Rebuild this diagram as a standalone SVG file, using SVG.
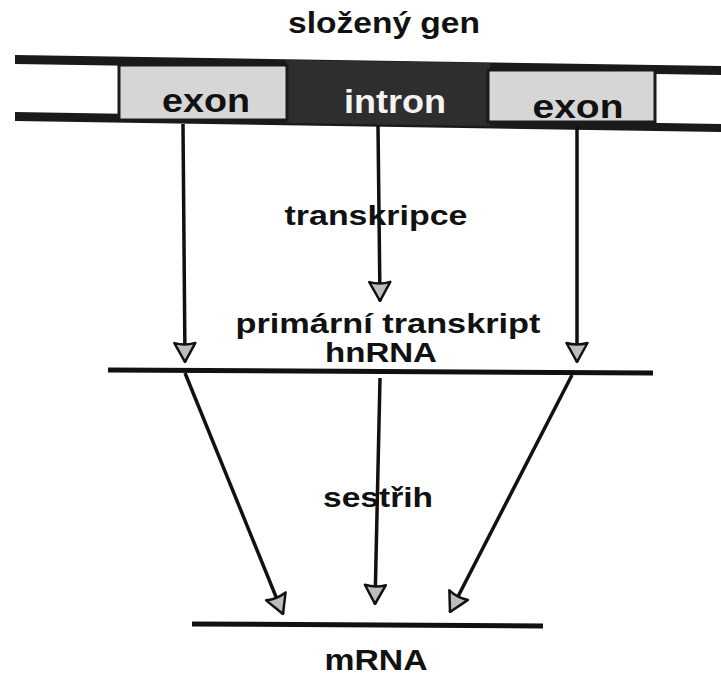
<svg xmlns="http://www.w3.org/2000/svg" width="721" height="677" viewBox="0 0 721 677">
<defs>
<style>
.t{font-family:"Liberation Sans",Arial,sans-serif;font-weight:bold;fill:#111;}
.band{fill:#1a1a1a;}
.exon{fill:#d6d6d6;stroke:#1a1a1a;stroke-width:3;}
.intron{fill:#2e2e2e;}
.ln{stroke:#111;stroke-width:3.5;fill:none;}
.rna{stroke:#111;stroke-width:5;fill:none;}
</style>
<marker id="ah" viewBox="0 0 22 24" refX="21" refY="12" markerWidth="22" markerHeight="24" markerUnits="userSpaceOnUse" orient="auto">
<path d="M2,1.5 L21,12 L2,22.5 Q5,12 2,1.5 z" fill="#bdbdbd" stroke="#111" stroke-width="2.5" stroke-linejoin="round"/>
</marker>
</defs>
<rect width="721" height="677" fill="#fff"/>
<g id="title"><text class="t" x="384" y="33" font-size="30" text-anchor="middle" textLength="192" lengthAdjust="spacingAndGlyphs">složený gen</text></g>
<g id="gene">
<polygon class="band" points="15,55 721,66 721,75 15,64"/>
<polygon class="band" points="15,112 721,124 721,132 15,121"/>
<polygon class="intron" points="286,60 490,63 490,126 286,123"/>
</g>
<g id="exon1">
<rect class="exon" x="119" y="65" width="168" height="55"/>
<text class="t" x="206" y="112" font-size="34" text-anchor="middle" textLength="88" lengthAdjust="spacingAndGlyphs">exon</text>
</g>
<g id="intron">
<text class="t" x="395" y="113" font-size="34" text-anchor="middle" textLength="102" lengthAdjust="spacingAndGlyphs" style="fill:#f4f4f4">intron</text>
</g>
<g id="exon2">
<rect class="exon" x="488" y="70" width="167" height="52"/>
<text class="t" x="578" y="118" font-size="34" text-anchor="middle" textLength="91" lengthAdjust="spacingAndGlyphs">exon</text>
</g>
<g id="hnRNA">
<line class="rna" x1="108" y1="370" x2="653" y2="373"/>
<text class="t" x="388" y="333" font-size="27" text-anchor="middle" textLength="305" lengthAdjust="spacingAndGlyphs">primární transkript</text>
<text class="t" x="381" y="362" font-size="27" text-anchor="middle" textLength="112" lengthAdjust="spacingAndGlyphs">hnRNA</text>
</g>
<g id="mRNA">
<line class="rna" x1="192" y1="624" x2="543" y2="626"/>
<text class="t" x="376" y="670" font-size="30" text-anchor="middle" textLength="103" lengthAdjust="spacingAndGlyphs">mRNA</text>
</g>
<g id="labels">
<text class="t" x="376" y="225" font-size="27" text-anchor="middle" textLength="183" lengthAdjust="spacingAndGlyphs">transkripce</text>
<text class="t" x="378" y="507" font-size="27" text-anchor="middle" textLength="110" lengthAdjust="spacingAndGlyphs">sestřih</text>
</g>
<g id="connectors">
<line class="ln" x1="183" y1="124" x2="185" y2="362" marker-end="url(#ah)"/>
<line class="ln" x1="378" y1="126" x2="380" y2="301" marker-end="url(#ah)"/>
<line class="ln" x1="577" y1="126" x2="577" y2="362" marker-end="url(#ah)"/>
<line class="ln" x1="185" y1="373" x2="283" y2="614" marker-end="url(#ah)"/>
<line class="ln" x1="380" y1="378" x2="375" y2="604" marker-end="url(#ah)"/>
<line class="ln" x1="572" y1="375" x2="450" y2="612" marker-end="url(#ah)"/>
</g>
</svg>
